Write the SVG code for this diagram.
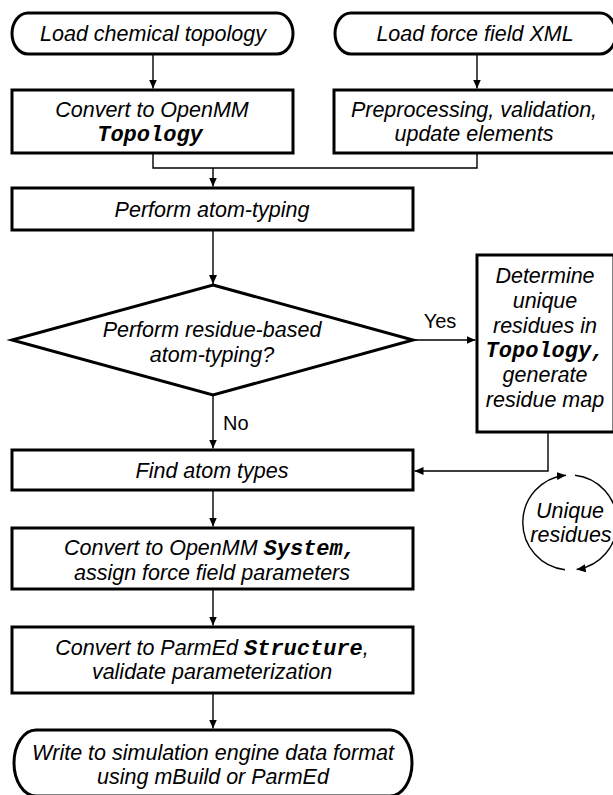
<svg xmlns="http://www.w3.org/2000/svg" width="613" height="795" viewBox="0 0 613 795">
<style>
.box{fill:#fff;stroke:#000;stroke-width:3}
.t{font-family:"Liberation Sans",Arial,sans-serif;font-style:italic;font-size:21.5px;fill:#000;text-anchor:middle}
.m{font-family:"Liberation Mono","Courier New",monospace;font-weight:bold;font-style:italic;font-size:22px}
.lbl{font-family:"Liberation Sans",Arial,sans-serif;font-size:20px;fill:#000}
.c{fill:none;stroke:#000;stroke-width:1.4}
</style>
<defs>
<marker id="ah" markerUnits="userSpaceOnUse" markerWidth="9" markerHeight="8" viewBox="0 0 9 8" refX="9" refY="4" orient="auto">
<path d="M0,0 L9,4 L0,8 z" fill="#000"/>
</marker>
</defs>
<rect width="613" height="795" fill="#fff"/>
<g id="connectors">
<path class="c" d="M153 54 V88.5" marker-end="url(#ah)"/>
<path class="c" d="M477 54 V88.5" marker-end="url(#ah)"/>
<path class="c" d="M153 153 V168 H477 V153"/>
<path class="c" d="M213 168 V186.5" marker-end="url(#ah)"/>
<path class="c" d="M213 230 V284" marker-end="url(#ah)"/>
<path class="c" d="M414 340 H475.5" marker-end="url(#ah)"/>
<path class="c" d="M213 395 V448.5" marker-end="url(#ah)"/>
<path class="c" d="M548 432 V471 H414.5" marker-end="url(#ah)"/>
<path class="c" d="M213 490 V526.5" marker-end="url(#ah)"/>
<path class="c" d="M213 589 V625.5" marker-end="url(#ah)"/>
<path class="c" d="M213 693 V728.5" marker-end="url(#ah)"/>
<text class="lbl" x="440" y="328" text-anchor="middle">Yes</text>
<text class="lbl" x="223" y="430">No</text>
</g>
<g id="load-topology">
<rect class="box" x="12" y="13" width="281" height="41" rx="16" ry="20.5"/>
<text class="t" x="153" y="41">Load chemical topology</text>
</g>
<g id="load-forcefield">
<rect class="box" x="335" y="13" width="281" height="41" rx="16" ry="20.5"/>
<text class="t" x="475" y="41">Load force field XML</text>
</g>
<g id="convert-topology">
<rect class="box" x="12" y="90" width="281" height="63"/>
<text class="t" x="152" y="117">Convert to OpenMM</text>
<text class="t" x="150" y="141"><tspan class="m">Topology</tspan></text>
</g>
<g id="preprocessing">
<rect class="box" x="334" y="90" width="282" height="63"/>
<text class="t" x="474" y="117">Preprocessing, validation,</text>
<text class="t" x="474" y="141">update elements</text>
</g>
<g id="atom-typing">
<rect class="box" x="12" y="188" width="401" height="42"/>
<text class="t" x="212" y="217">Perform atom-typing</text>
</g>
<g id="decision">
<polygon class="box" points="213,285 413,340 213,395 12,340"/>
<text class="t" x="212" y="337">Perform residue-based</text>
<text class="t" x="212" y="362">atom-typing?</text>
</g>
<g id="unique-residues-box">
<rect class="box" x="477" y="255" width="137" height="177"/>
<text class="t" x="545" y="283">Determine</text>
<text class="t" x="545" y="308">unique</text>
<text class="t" x="545" y="333">residues in</text>
<text class="t" x="545" y="357"><tspan class="m">Topology,</tspan></text>
<text class="t" x="545" y="382">generate</text>
<text class="t" x="545" y="407">residue map</text>
</g>
<g id="find-atom-types">
<rect class="box" x="12" y="450" width="401" height="40"/>
<text class="t" x="212" y="478">Find atom types</text>
</g>
<g id="unique-residues-cycle">
<path class="c" d="M565 569.7 A47.5 47.5 0 0 1 565.9 475.2" marker-end="url(#ah)"/>
<path class="c" d="M575 475.3 A47.5 47.5 0 0 1 576.6 569.5" marker-end="url(#ah)"/>
<text class="t" x="570" y="518">Unique</text>
<text class="t" x="571" y="542">residues</text>
</g>
<g id="convert-system">
<rect class="box" x="12" y="528" width="401" height="61"/>
<text class="t" x="210" y="555">Convert to OpenMM <tspan class="m">System,</tspan></text>
<text class="t" x="212" y="580">assign force field parameters</text>
</g>
<g id="convert-structure">
<rect class="box" x="12" y="627" width="401" height="66"/>
<text class="t" x="212" y="655">Convert to ParmEd <tspan class="m">Structure</tspan>,</text>
<text class="t" x="212" y="679">validate parameterization</text>
</g>
<g id="write-output">
<rect class="box" x="14" y="730" width="398" height="66" rx="22" ry="33"/>
<text class="t" x="213" y="760">Write to simulation engine data format</text>
<text class="t" x="213" y="784">using mBuild or ParmEd</text>
</g>
</svg>
